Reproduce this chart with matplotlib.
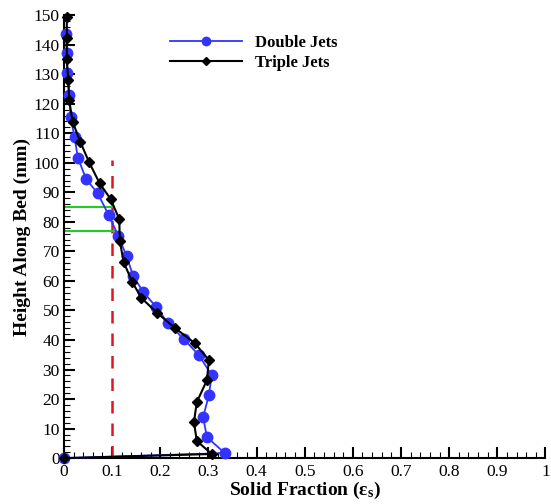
import matplotlib
matplotlib.use("Agg")
import matplotlib.pyplot as plt
from matplotlib.ticker import MultipleLocator, FuncFormatter

plt.rcParams['font.family'] = ['Liberation Serif', 'DejaVu Serif']
plt.rcParams['mathtext.fontset'] = 'custom'
plt.rcParams['mathtext.rm'] = 'Liberation Serif'
plt.rcParams['mathtext.it'] = 'Liberation Serif:italic'
plt.rcParams['mathtext.bf'] = 'Liberation Serif:bold'

# Double Jets (solid fraction, height in mm)
double_x = [0.005, 0.006, 0.007, 0.011, 0.014, 0.022, 0.029, 0.046, 0.070, 0.093,
            0.113, 0.130, 0.144, 0.165, 0.192, 0.216, 0.249, 0.280, 0.307, 0.301,
            0.289, 0.297, 0.334, 0.0]
double_y = [143.7, 137.1, 130.3, 122.9, 115.6, 108.6, 101.7, 94.5, 89.7, 82.3,
            75.2, 68.4, 61.6, 56.2, 51.1, 45.7, 40.3, 34.9, 28.1, 21.3,
            13.9, 7.1, 1.7, 0.0]

# Triple Jets
triple_x = [0.006, 0.006, 0.006, 0.009, 0.011, 0.018, 0.034, 0.052, 0.074, 0.097,
            0.115, 0.116, 0.124, 0.142, 0.161, 0.194, 0.231, 0.272, 0.301, 0.297,
            0.276, 0.270, 0.276, 0.307, 0.0]
triple_y = [149.4, 142.1, 135.0, 128.0, 121.2, 113.9, 107.1, 100.3, 93.1, 87.7,
            80.9, 73.6, 66.4, 59.6, 54.2, 49.1, 44.0, 38.9, 33.2, 26.4,
            19.0, 12.2, 5.8, 1.4, 0.0]

# reference lines
threshold_x = 0.1
threshold_top = 101
band_y = [85, 77]

fig = plt.figure(figsize=(5.51, 5.04), dpi=100)
ax = fig.add_axes([0.116, 0.091, 0.874, 0.879])

ax.plot(double_x, double_y, color='#3333ff', lw=1.3, marker='o', ms=7.5,
        label='Double Jets', clip_on=False, zorder=3)
ax.plot(triple_x, triple_y, color='black', lw=1.5, marker='D', ms=5,
        label='Triple Jets', clip_on=False, zorder=4)

ax.plot([threshold_x, threshold_x], [0, threshold_top], color='#e0141e',
        lw=1.8, dashes=(5, 4), zorder=2)
for yy in band_y:
    ax.plot([0, threshold_x + 0.003], [yy, yy], color='#22cc22', lw=1.5, zorder=2)

ax.set_xlim(0, 1)
ax.set_ylim(0, 150)
ax.spines['top'].set_visible(False)
ax.spines['right'].set_visible(False)
ax.spines['left'].set_linewidth(1.5)
ax.spines['bottom'].set_linewidth(1.5)

ax.xaxis.set_major_locator(MultipleLocator(0.1))
ax.xaxis.set_minor_locator(MultipleLocator(0.02))
ax.yaxis.set_major_locator(MultipleLocator(10))
ax.yaxis.set_minor_locator(MultipleLocator(2))
ax.xaxis.set_major_formatter(FuncFormatter(lambda v, p: '%g' % round(v, 2)))
ax.tick_params(which='major', direction='in', length=8, width=1.5, labelsize=12.5)
ax.tick_params(which='minor', direction='in', length=4, width=0.8)
ax.tick_params(axis='x', pad=4)
ax.tick_params(axis='y', pad=3)

ax.set_xlabel(r'Solid Fraction ($\mathbf{\varepsilon_s}$)', fontsize=14,
              fontweight='bold', labelpad=0)
ax.set_ylabel('Height Along Bed (mm)', fontsize=14, fontweight='bold', labelpad=2)

ax.legend(loc='upper left', bbox_to_anchor=(0.19, 0.99), frameon=False,
          prop={'weight': 'bold', 'size': 12}, handlelength=4.3,
          labelspacing=0.25, handletextpad=0.8, markerscale=0.8)

fig.savefig('out.png', dpi=100)
